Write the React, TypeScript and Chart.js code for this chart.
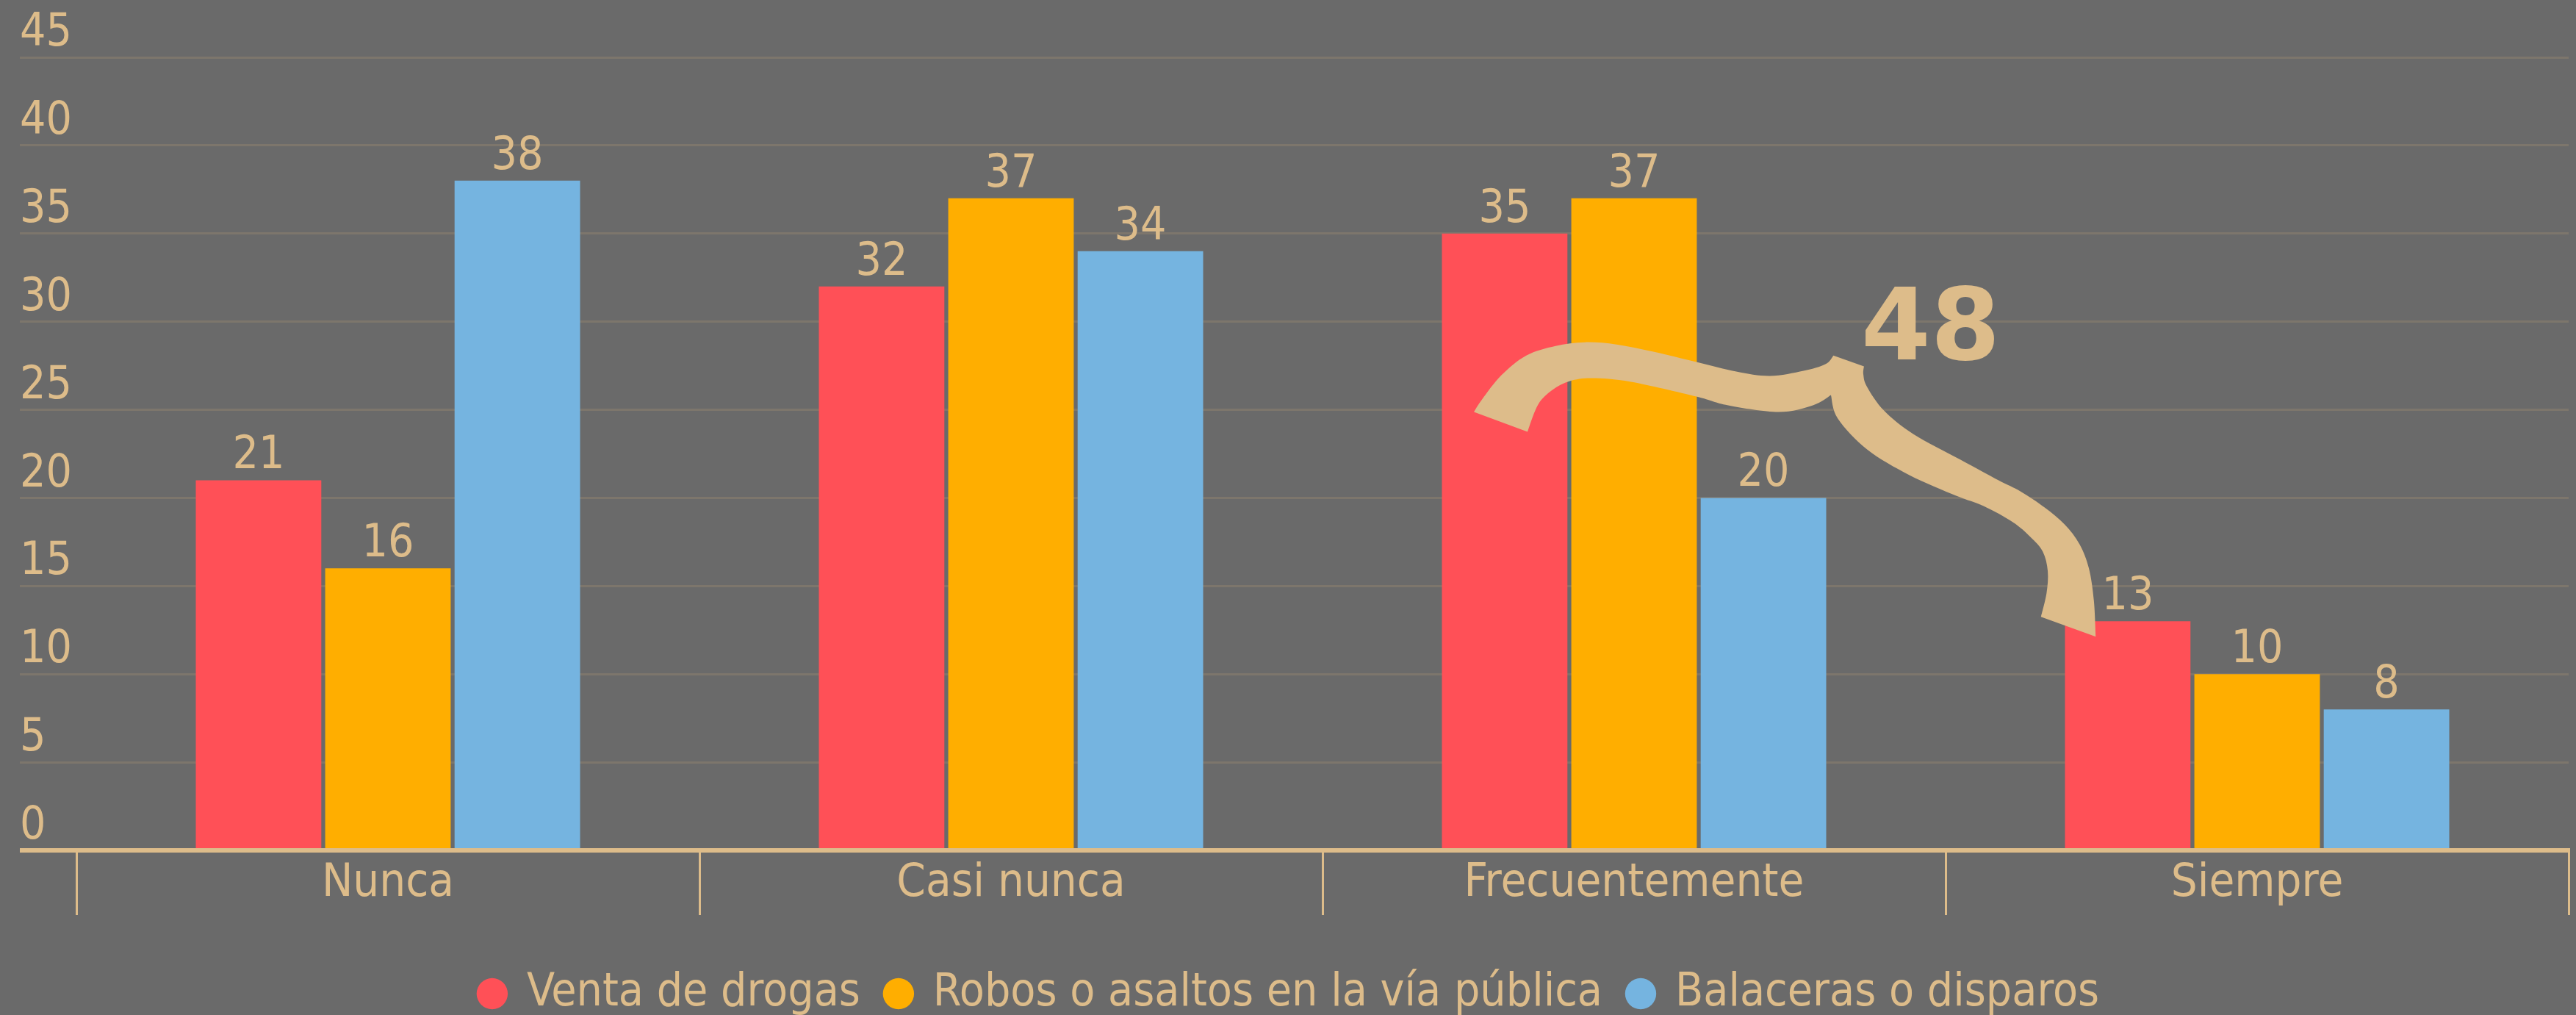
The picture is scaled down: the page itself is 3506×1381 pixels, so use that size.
import React, { useEffect, useRef } from "react";
import { Chart, registerables } from "chart.js";

Chart.register(...registerables);

// ---------- data ----------
const categories = ["Nunca", "Casi nunca", "Frecuentemente", "Siempre"];
const seriesNames = [
  "Venta de drogas",
  "Robos o asaltos en la vía pública",
  "Balaceras o disparos",
];
const ventaDrogas = [21, 32, 35, 13];
const robosAsaltos = [16, 37, 37, 10];
const balaceras = [38, 34, 20, 8];
const yMin = 0;
const yMax = 45;
const yStep = 5;

// callout "48" (sum of Frecuentemente + Siempre for Venta de drogas)
const calloutText = "48";
const calloutAnchor = [2.476, 27.875]; // [category index, value]
// outline of the curved callout stroke, in [category index, value] space
const calloutUpperEdge = [
  [1.743, 24.875], [1.756, 25.583], [1.787, 26.958], [1.827, 28.083], [1.874, 28.625],
  [1.921, 28.833], [1.972, 28.708], [2.031, 28.292], [2.1, 27.708], [2.164, 27.167],
  [2.218, 26.917], [2.272, 27.208], [2.307, 27.583], [2.32, 28.083],
];
const calloutOuterEdge = [
  [2.369, 27.458], [2.368, 27.0], [2.374, 26.292], [2.401, 24.958], [2.448, 23.625],
  [2.524, 22.167], [2.585, 21.0], [2.62, 20.375], [2.659, 19.458], [2.691, 18.5],
  [2.715, 17.375], [2.73, 16.0], [2.738, 14.167], [2.741, 12.125],
];
const calloutInnerEdge = [
  [2.653, 13.25], [2.662, 14.583], [2.664, 15.833], [2.656, 16.958], [2.636, 17.792],
  [2.608, 18.625], [2.561, 19.542], [2.517, 20.125], [2.442, 21.292], [2.374, 22.75],
  [2.327, 24.5], [2.316, 25.833],
];
const calloutLowerEdge = [
  [2.316, 25.833], [2.287, 25.25], [2.232, 24.875], [2.151, 25.25], [2.1, 25.75],
  [1.995, 26.583], [1.933, 26.792], [1.897, 26.625], [1.869, 26.125], [1.846, 25.292],
  [1.829, 23.75],
];

// ---------- styles ----------
const W = 3506;
const H = 1381;
const BG = "#6A6A6A";
const TAN = "#DDBC8A";
const GRID = "#7D766C";
const RED = "#FF5057";
const ORANGE = "#FFAE00";
const BLUE = "#75B4E0";
const FONT = '"DejaVu Sans Condensed", "DejaVu Sans", sans-serif';
const FS = 62;
const FS_X = 63;
const LEGEND_SHIFT = -6;

function smoothEdge(ctx: CanvasRenderingContext2D, pts: number[][], moveFirst: boolean) {
  if (moveFirst) ctx.moveTo(pts[0][0], pts[0][1]);
  else ctx.lineTo(pts[0][0], pts[0][1]);
  for (let i = 0; i < pts.length - 1; i++) {
    const p0 = pts[Math.max(0, i - 1)];
    const p1 = pts[i];
    const p2 = pts[i + 1];
    const p3 = pts[Math.min(pts.length - 1, i + 2)];
    const c1x = p1[0] + (p2[0] - p0[0]) / 6;
    const c1y = p1[1] + (p2[1] - p0[1]) / 6;
    const c2x = p2[0] - (p3[0] - p1[0]) / 6;
    const c2y = p2[1] - (p3[1] - p1[1]) / 6;
    ctx.bezierCurveTo(c1x, c1y, c2x, c2y, p2[0], p2[1]);
  }
}

const bgPlugin = {
  id: "bg",
  beforeDraw(chart: any) {
    const ctx = chart.ctx;
    ctx.save();
    ctx.fillStyle = BG;
    ctx.fillRect(0, 0, chart.width, chart.height);
    ctx.restore();
  },
};

const legendCenterPlugin = {
  id: "legendCenter",
  afterLayout(chart: any) {
    const lg = chart.legend;
    if (lg) {
      lg.left += LEGEND_SHIFT;
      lg.right += LEGEND_SHIFT;
    }
  },
};

const calloutPlugin = {
  id: "callout",
  afterDatasetsDraw(chart: any) {
    const { ctx, scales } = chart;
    const xs = scales.x;
    const ys = scales.y;
    const toPx = (arr: number[][]) =>
      arr.map((p) => [xs.getPixelForValue(p[0]), ys.getPixelForValue(p[1])]);
    ctx.save();
    ctx.fillStyle = TAN;
    ctx.beginPath();
    smoothEdge(ctx, toPx(calloutUpperEdge), true);
    smoothEdge(ctx, toPx(calloutOuterEdge), false);
    smoothEdge(ctx, toPx(calloutInnerEdge), false);
    smoothEdge(ctx, toPx(calloutLowerEdge), false);
    ctx.closePath();
    ctx.fill();
    ctx.font = `bold 136px "DejaVu Sans", sans-serif`;
    ctx.textAlign = "center";
    ctx.textBaseline = "alphabetic";
    ctx.fillText(
      calloutText,
      xs.getPixelForValue(calloutAnchor[0]),
      ys.getPixelForValue(calloutAnchor[1])
    );
    ctx.restore();
  },
};

const valueLabelPlugin = {
  id: "valueLabels",
  afterDatasetsDraw(chart: any) {
    const { ctx } = chart;
    ctx.save();
    ctx.fillStyle = TAN;
    ctx.font = `${FS}px ${FONT}`;
    ctx.textAlign = "center";
    ctx.textBaseline = "alphabetic";
    chart.data.datasets.forEach((ds: any, di: number) => {
      const meta = chart.getDatasetMeta(di);
      meta.data.forEach((bar: any, i: number) => {
        ctx.fillText(String(ds.data[i]), bar.x, bar.y - 16);
      });
    });
    ctx.restore();
  },
};

export default function App() {
  const ref = useRef<HTMLCanvasElement>(null);
  useEffect(() => {
    document.body.style.margin = "0";
    document.body.style.background = BG;
    const canvas = ref.current!;
    Chart.defaults.font.family = FONT;
    Chart.defaults.font.size = FS;
    const chart = new Chart(canvas, {
      type: "bar",
      data: {
        labels: categories,
        datasets: [
          { label: seriesNames[0], data: ventaDrogas, backgroundColor: RED },
          { label: seriesNames[1], data: robosAsaltos, backgroundColor: ORANGE },
          { label: seriesNames[2], data: balaceras, backgroundColor: BLUE },
        ].map((d) => ({
          ...d,
          borderWidth: 0,
          barPercentage: 0.97,
          categoryPercentage: 0.623,
          pointStyle: "circle",
        })),
      },
      options: {
        animation: false,
        responsive: false,
        devicePixelRatio: 1,
        layout: { padding: { left: 27, right: 10, top: 78, bottom: -12 } },
        plugins: {
          legend: {
            position: "bottom",
            labels: {
              usePointStyle: true,
              pointStyle: "circle",
              boxWidth: 32,
              boxHeight: 30,
              color: TAN,
              font: { family: FONT, size: FS },
              padding: 36,
            },
          },
          tooltip: { enabled: false },
        },
        scales: {
          x: {
            z: 1,
            grid: {
              offset: true,
              drawOnChartArea: false,
              drawTicks: true,
              tickLength: 88,
              color: TAN,
              lineWidth: 3,
            },
            border: { display: true, color: TAN, width: 6 },
            ticks: {
              color: TAN,
              font: { family: FONT, size: FS_X },
              padding: -80,
              maxRotation: 0,
            },
            afterFit: (s: any) => {
              s.height = 128;
            },
          },
          y: {
            min: yMin,
            max: yMax,
            ticks: {
              stepSize: yStep,
              color: TAN,
              font: { family: FONT, size: FS },
              crossAlign: "far",
              labelOffset: -32,
              padding: 0,
            },
            grid: {
              color: (c: any) => (c.tick && c.tick.value === 0 ? TAN : GRID),
              tickColor: (c: any) => (c.tick && c.tick.value === 0 ? TAN : GRID),
              lineWidth: (c: any) => (c.tick && c.tick.value === 0 ? 6 : 3),
              tickLength: 77,
              drawTicks: true,
            },
            border: { display: false },
            afterFit: (s: any) => {
              s.width = 77;
            },
          },
        },
      } as any,
      plugins: [bgPlugin, legendCenterPlugin, calloutPlugin, valueLabelPlugin],
    });
    return () => chart.destroy();
  }, []);
  return (
    <div style={{ width: W, height: H, background: BG }}>
      <canvas ref={ref} width={W} height={H} style={{ display: "block" }} />
    </div>
  );
}
